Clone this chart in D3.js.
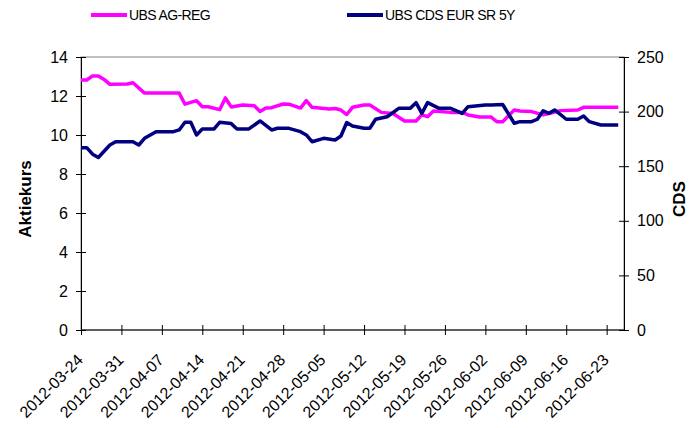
<!DOCTYPE html>
<html lang="en">
<head>
  <meta charset="UTF-8">
  <title>UBS Aktiekurs vs CDS</title>
  <script src="https://d3js.org/d3.v7.min.js"></script>
  <style>
    body { margin: 0; background: white; font-family: "Liberation Sans", Arial, sans-serif; }
    svg { display: block; }
  </style>
</head>
<body>
  <svg width="698" height="428"></svg>
  <script>
    // UBS AG-REG (left axis)
    const stockDates = ["2012-03-24","2012-03-25","2012-03-26","2012-03-27","2012-03-28","2012-03-29","2012-04-01","2012-04-02",
      "2012-04-04","2012-04-10","2012-04-11","2012-04-13","2012-04-14","2012-04-15","2012-04-17","2012-04-18","2012-04-19",
      "2012-04-21","2012-04-23","2012-04-24","2012-04-25","2012-04-26","2012-04-28","2012-04-29","2012-05-01","2012-05-02",
      "2012-05-03","2012-05-06","2012-05-07","2012-05-08","2012-05-09","2012-05-10","2012-05-12","2012-05-13","2012-05-15",
      "2012-05-17","2012-05-19","2012-05-21","2012-05-22","2012-05-23","2012-05-24","2012-05-27","2012-05-29","2012-05-30",
      "2012-06-01","2012-06-03","2012-06-04","2012-06-05","2012-06-07","2012-06-08","2012-06-10","2012-06-12","2012-06-13",
      "2012-06-15","2012-06-18","2012-06-19","2012-06-25"];
    const stockValues = [12.82,12.82,13.03,13.03,12.85,12.6,12.62,12.68,
      12.15,12.15,11.58,11.76,11.45,11.45,11.3,11.9,11.44,
      11.54,11.5,11.2,11.38,11.4,11.59,11.58,11.38,11.76,
      11.42,11.33,11.36,11.28,11.05,11.42,11.54,11.54,11.16,
      11.1,10.72,10.72,11.03,10.94,11.23,11.16,11.16,11.03,
      10.92,10.92,10.68,10.68,11.28,11.23,11.2,11.03,11.1,
      11.25,11.28,11.42,11.42];

    // UBS CDS EUR SR 5Y (right axis)
    const cdsDates = ["2012-03-24","2012-03-25","2012-03-26","2012-03-27","2012-03-29","2012-03-30","2012-04-02","2012-04-03",
      "2012-04-04","2012-04-06","2012-04-09","2012-04-10","2012-04-11","2012-04-12","2012-04-13","2012-04-14","2012-04-16",
      "2012-04-17","2012-04-19","2012-04-20","2012-04-22","2012-04-24","2012-04-26","2012-04-27","2012-04-29","2012-05-01",
      "2012-05-02","2012-05-03","2012-05-05","2012-05-07","2012-05-08","2012-05-09","2012-05-10","2012-05-12","2012-05-13",
      "2012-05-14","2012-05-16","2012-05-18","2012-05-20","2012-05-21","2012-05-22","2012-05-23","2012-05-25","2012-05-27",
      "2012-05-29","2012-05-30","2012-06-02","2012-06-03","2012-06-05","2012-06-07","2012-06-08","2012-06-10","2012-06-11",
      "2012-06-12","2012-06-13","2012-06-14","2012-06-16","2012-06-18","2012-06-19","2012-06-20","2012-06-22","2012-06-25"];
    const cdsValues = [167,167,161,158,169.4,172.4,172.4,169.4,
      175.5,181.6,181.6,183.2,190.2,190.2,178.6,184,184,
      190.2,189,184,184,191.4,183.2,184.7,184.7,181.6,
      178.6,172.4,175.5,174,177.7,190,186.8,184.7,184.7,
      193,195.3,203,203,208.2,198.4,208.2,203,203,
      198.4,204.5,206,206,206.5,189.3,190.8,190.8,193,
      200.8,198.4,201.5,193,193,196,190.8,187.7,187.7];

    const tickDates = ["2012-03-24","2012-03-31","2012-04-07","2012-04-14","2012-04-21","2012-04-28","2012-05-05",
      "2012-05-12","2012-05-19","2012-05-26","2012-06-02","2012-06-09","2012-06-16","2012-06-23"];
    const leftTicks = [0, 2, 4, 6, 8, 10, 12, 14];
    const rightTicks = [0, 50, 100, 150, 200, 250];

    const parse = d3.utcParse("%Y-%m-%d");
    const stock = stockDates.map((d, i) => ({ date: parse(d), value: stockValues[i] }));
    const cds = cdsDates.map((d, i) => ({ date: parse(d), value: cdsValues[i] }));

    const svg = d3.select("svg");
    const plotL = 81, plotR = 624, plotT = 57, plotB = 330;

    const x = d3.scaleUtc().domain([parse("2012-03-24"), parse("2012-06-26")]).range([plotL, plotR]);
    const yL = d3.scaleLinear().domain([0, 14]).range([plotB, plotT]);
    const yR = d3.scaleLinear().domain([0, 250]).range([plotB, plotT]);

    // plot area border
    svg.append("rect")
      .attr("x", plotL).attr("y", plotT)
      .attr("width", plotR - plotL).attr("height", plotB - plotT)
      .attr("fill", "none").attr("stroke", "#808080").attr("stroke-width", 1);

    // left axis
    const gL = svg.append("g")
      .attr("transform", `translate(${plotL},0)`)
      .call(d3.axisLeft(yL).tickValues(leftTicks).tickSize(5).tickPadding(8));
    gL.selectAll(".tick line").attr("x1", 5);
    gL.selectAll("text").style("font-size", "16px").style("font-family", "Liberation Sans, Arial, sans-serif").attr("fill", "#000");

    // right axis
    const gR = svg.append("g")
      .attr("transform", `translate(${plotR},0)`)
      .call(d3.axisRight(yR).tickValues(rightTicks).tickSize(5).tickPadding(8));
    gR.selectAll(".tick line").attr("x1", -5);
    gR.selectAll("text").style("font-size", "16px").style("font-family", "Liberation Sans, Arial, sans-serif").attr("fill", "#000");

    // bottom axis
    const gB = svg.append("g")
      .attr("transform", `translate(0,${plotB})`)
      .call(d3.axisBottom(x).tickValues(tickDates.map(parse)).tickSize(5).tickFormat(""));
    gB.selectAll(".tick line").attr("y1", -5);
    gB.select(".domain").attr("d", `M${plotL},0H${plotR}`);

    svg.append("g").selectAll("text")
      .data(tickDates)
      .join("text")
      .attr("transform", d => `translate(${x(parse(d)) + 3},${plotB + 31}) rotate(-45)`)
      .attr("text-anchor", "end")
      .style("font-size", "16px")
      .text(d => d);

    [gL, gR, gB].forEach(g => g.selectAll("line, path").attr("stroke", "#000"));

    // axis titles
    svg.append("text")
      .attr("transform", "translate(31,199) rotate(-90)")
      .attr("text-anchor", "middle")
      .style("font-size", "17px").style("font-weight", "bold")
      .text("Aktiekurs");
    svg.append("text")
      .attr("transform", "translate(685,199) rotate(-90)")
      .attr("text-anchor", "middle")
      .style("font-size", "17px").style("font-weight", "bold")
      .text("CDS");

    // lines
    const lineL = d3.line().x(d => x(d.date)).y(d => yL(d.value));
    const lineR = d3.line().x(d => x(d.date)).y(d => yR(d.value));

    svg.append("path").datum(stock)
      .attr("d", lineL).attr("fill", "none")
      .attr("stroke", "#ff00ff").attr("stroke-width", 3.5).attr("stroke-linejoin", "round");
    svg.append("path").datum(cds)
      .attr("d", lineR).attr("fill", "none")
      .attr("stroke", "#000080").attr("stroke-width", 3.5).attr("stroke-linejoin", "round");

    // legend
    const legend = [
      { name: "UBS AG-REG", color: "#ff00ff", x: 91 },
      { name: "UBS CDS EUR SR 5Y", color: "#000080", x: 347 }
    ];
    const lg = svg.append("g").selectAll("g").data(legend).join("g")
      .attr("transform", d => `translate(${d.x},15)`);
    lg.append("line").attr("x1", 0).attr("x2", 36).attr("y1", 0).attr("y2", 0)
      .attr("stroke", d => d.color).attr("stroke-width", 4);
    lg.append("text").attr("x", 38).attr("y", 5)
      .style("font-family", "Liberation Sans Narrow, Arial Narrow, sans-serif")
      .style("font-size", "14px").style("letter-spacing", "-0.6px")
      .text(d => d.name);
  </script>
</body>
</html>
